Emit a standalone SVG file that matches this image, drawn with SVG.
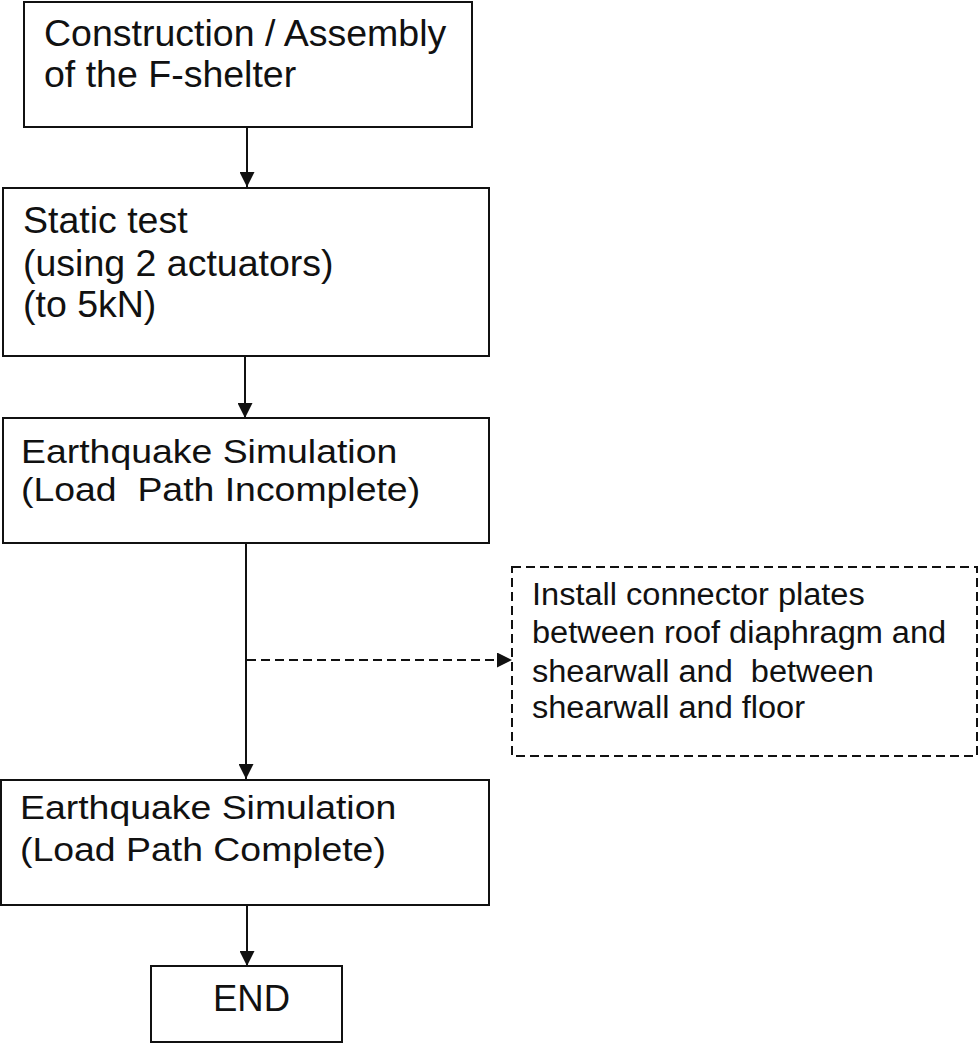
<svg xmlns="http://www.w3.org/2000/svg" width="980" height="1045" viewBox="0 0 980 1045">
  <style>
    .box { fill: #ffffff; stroke: #111111; stroke-width: 2; }
    .dash { fill: #ffffff; stroke: #111111; stroke-width: 2; stroke-dasharray: 9 5; }
    .lbl { font-family: "Liberation Sans", Arial, sans-serif; fill: #111111; }
    .flow { fill: none; stroke: #111111; stroke-width: 2; }
    .flowd { fill: none; stroke: #111111; stroke-width: 2; stroke-dasharray: 9 5; }
  </style>
  <defs>
    <marker id="arrow" viewBox="0 0 15 15" refX="15" refY="7.5" markerWidth="15" markerHeight="15" markerUnits="userSpaceOnUse" orient="auto">
      <path d="M0,0 L15,7.5 L0,15 Z" fill="#111111"/>
    </marker>
  </defs>
  <rect width="980" height="1045" fill="#ffffff"/>

  <!-- connectors -->
  <g id="connectors">
    <line class="flow" x1="247" y1="127" x2="247" y2="187" marker-end="url(#arrow)"/>
    <line class="flow" x1="245" y1="357" x2="245" y2="418" marker-end="url(#arrow)"/>
    <line class="flow" x1="246" y1="543" x2="246" y2="779" marker-end="url(#arrow)"/>
    <line class="flowd" x1="247" y1="660" x2="512" y2="660" marker-end="url(#arrow)"/>
    <line class="flow" x1="247" y1="905" x2="247" y2="966" marker-end="url(#arrow)"/>
  </g>

  <!-- construction step -->
  <g id="node-construction">
    <rect class="box" x="24" y="2" width="448" height="125"/>
    <text class="lbl" font-size="37.5" x="44" y="46">Construction / Assembly</text>
    <text class="lbl" font-size="37.5" x="44" y="87">of the F-shelter</text>
  </g>

  <!-- static test -->
  <g id="node-static">
    <rect class="box" x="3" y="188" width="486" height="168"/>
    <text class="lbl" font-size="37.5" x="23" y="233">Static test</text>
    <text class="lbl" font-size="37.5" x="23" y="276">(using 2 actuators)</text>
    <text class="lbl" font-size="37.5" x="23" y="317">(to 5kN)</text>
  </g>

  <!-- first earthquake run -->
  <g id="node-eq-incomplete">
    <rect class="box" x="3" y="418" width="486" height="125"/>
    <text class="lbl" font-size="34" transform="translate(21,463) scale(1.1,1)" x="0" y="0">Earthquake Simulation</text>
    <text class="lbl" font-size="34" transform="translate(21,501) scale(1.1,1)" x="0" y="0" xml:space="preserve">(Load  Path Incomplete)</text>
  </g>

  <!-- retrofit step -->
  <g id="node-connector-plates">
    <rect class="dash" x="512" y="567" width="465" height="189"/>
    <g transform="translate(532,0) scale(1.05,1)">
      <text class="lbl" font-size="31" x="0" y="605">Install connector plates</text>
      <text class="lbl" font-size="31" x="0" y="643">between roof diaphragm and</text>
      <text class="lbl" font-size="31" x="0" y="682" xml:space="preserve">shearwall and  between</text>
      <text class="lbl" font-size="31" x="0" y="718">shearwall and floor</text>
    </g>
  </g>

  <!-- second earthquake run -->
  <g id="node-eq-complete">
    <rect class="box" x="1" y="780" width="488" height="125"/>
    <text class="lbl" font-size="34" transform="translate(20,819) scale(1.1,1)" x="0" y="0">Earthquake Simulation</text>
    <text class="lbl" font-size="34" transform="translate(20,861) scale(1.1,1)" x="0" y="0">(Load Path Complete)</text>
  </g>

  <!-- end -->
  <g id="node-end">
    <rect class="box" x="151" y="966" width="191" height="76"/>
    <text class="lbl" font-size="36.5" x="213" y="1011">END</text>
  </g>
</svg>
